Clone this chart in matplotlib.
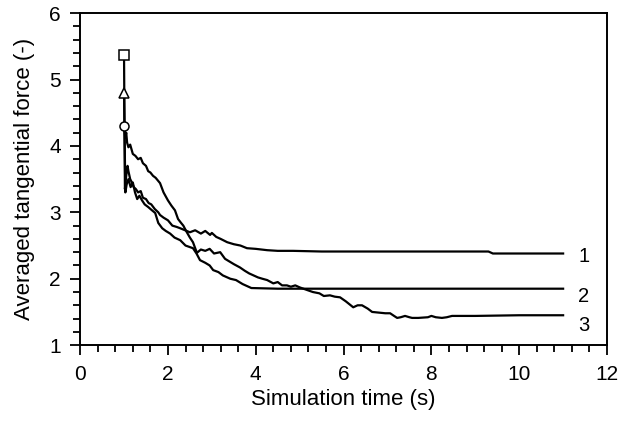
import matplotlib
matplotlib.use('Agg')
import matplotlib.pyplot as plt
from matplotlib.ticker import MultipleLocator

plt.rcParams['font.family'] = ['Liberation Sans', 'DejaVu Sans']

# --- curve 1 (square start, ends ~2.4) ---
x1 = [1.0, 1.02, 1.05, 1.08, 1.1, 1.14, 1.18, 1.22, 1.27, 1.32, 1.38, 1.43, 1.5, 1.56,
      1.62, 1.7, 1.78, 1.82, 1.9, 2.0, 2.1, 2.2, 2.28, 2.39, 2.5, 2.62, 2.75, 2.85,
      2.96, 3.0, 3.1, 3.2, 3.35, 3.5, 3.65, 3.8, 4.0, 4.26, 4.5, 4.85, 5.5, 6.5, 7.5,
      8.5, 9.3, 9.4, 10.0, 11.0]
y1 = [5.37, 3.35, 3.55, 3.7, 3.62, 3.5, 3.45, 3.38, 3.35, 3.3, 3.32, 3.22, 3.2, 3.14,
      3.12, 3.05, 3.0, 2.96, 2.92, 2.88, 2.8, 2.78, 2.76, 2.73, 2.7, 2.73, 2.68, 2.72,
      2.66, 2.69, 2.63, 2.6, 2.55, 2.52, 2.5, 2.46, 2.45, 2.43, 2.42, 2.42, 2.41, 2.41, 2.41,
      2.41, 2.41, 2.38, 2.38, 2.38]

# --- curve 2 (triangle start, ends ~1.85) ---
x2 = [1.0, 1.03, 1.06, 1.1, 1.15, 1.2, 1.25, 1.3, 1.35, 1.41, 1.47, 1.55, 1.62, 1.71,
      1.78, 1.87, 1.95, 2.05, 2.15, 2.28, 2.4, 2.57, 2.65, 2.73, 2.85, 2.95, 3.03,
      3.15, 3.25, 3.42, 3.55, 3.7, 3.9, 4.5, 5.5, 6.5, 7.5, 8.5, 9.5, 10.5, 11.0]
y2 = [4.8, 3.3, 3.42, 3.5, 3.38, 3.45, 3.3, 3.2, 3.25, 3.18, 3.12, 3.08, 3.04, 2.99,
      2.84, 2.76, 2.72, 2.68, 2.62, 2.58, 2.5, 2.46, 2.38, 2.28, 2.24, 2.2, 2.13,
      2.1, 2.05, 2.0, 1.98, 1.92, 1.86, 1.85, 1.85, 1.85, 1.85, 1.85, 1.85, 1.85, 1.85]

# --- curve 3 (circle start, ends ~1.45) ---
x3 = [1.0, 1.03, 1.05, 1.07, 1.1, 1.14, 1.2, 1.26, 1.32, 1.38, 1.43, 1.5, 1.55, 1.6,
      1.66, 1.72, 1.82, 1.9, 2.0, 2.08, 2.16, 2.23, 2.3, 2.35, 2.43, 2.5, 2.57, 2.66,
      2.75, 2.85, 2.95, 3.05, 3.19, 3.3, 3.4, 3.5, 3.64, 3.75, 3.85, 3.95, 4.05,
      4.15, 4.26, 4.4, 4.5, 4.6, 4.71, 4.8, 4.9, 5.0, 5.17, 5.3, 5.45, 5.55, 5.69,
      5.8, 5.92, 6.05, 6.22, 6.32, 6.42, 6.55, 6.65, 6.8, 6.95, 7.06, 7.15, 7.22,
      7.3, 7.4, 7.5, 7.56, 7.7, 7.92, 8.0, 8.1, 8.24, 8.35, 8.47, 9.0, 10.0, 11.0]
y3 = [4.3, 4.12, 4.2, 4.05, 3.98, 4.02, 3.88, 3.85, 3.8, 3.82, 3.74, 3.7, 3.62, 3.6,
      3.55, 3.52, 3.44, 3.3, 3.18, 3.1, 3.03, 2.9, 2.84, 2.8, 2.7, 2.62, 2.55, 2.39,
      2.44, 2.42, 2.45, 2.38, 2.4, 2.3, 2.26, 2.22, 2.17, 2.12, 2.08, 2.05, 2.02,
      2.0, 1.98, 1.93, 1.95, 1.9, 1.9, 1.88, 1.9, 1.87, 1.83, 1.8, 1.78, 1.74, 1.75,
      1.73, 1.72, 1.66, 1.57, 1.6, 1.6, 1.55, 1.5, 1.49, 1.48, 1.48, 1.44, 1.41,
      1.42, 1.44, 1.42, 1.41, 1.41, 1.42, 1.44, 1.42, 1.41, 1.42, 1.44, 1.44, 1.45, 1.45]

curve_labels = ['1', '2', '3']
label_y = [2.33, 1.74, 1.30]
start_markers = ['s', '^', 'o']

fig = plt.figure(figsize=(6.41, 4.24), dpi=100)
ax = fig.add_axes([0.125, 0.186, 0.822, 0.783])

for xs, ys, m in zip([x1, x2, x3], [y1, y2, y3], start_markers):
    ax.plot(xs, ys, color='black', lw=1.6)
    ax.plot(xs[0], ys[0], marker=m, ms=6.5, mfc='white', mec='black', mew=1.1, ls='none')

for lab, ly in zip(curve_labels, label_y):
    ax.text(11.35, ly, lab, fontsize=14.5, ha='left', va='center')

ax.set_xlim(0, 12)
ax.set_ylim(1, 6)
ax.xaxis.set_major_locator(MultipleLocator(2))
ax.xaxis.set_minor_locator(MultipleLocator(0.4))
ax.yaxis.set_major_locator(MultipleLocator(1))
ax.yaxis.set_minor_locator(MultipleLocator(0.2))
ax.tick_params(which='both', direction='out', width=1.3, labelsize=15, top=False, right=False)
ax.tick_params(which='major', length=7, pad=7)
ax.tick_params(which='minor', length=5)
for s in ax.spines.values():
    s.set_linewidth(1.4)

ax.set_xlabel('Simulation time (s)', fontsize=16, labelpad=4)
ax.set_ylabel('Averaged tangential force (-)', fontsize=16, labelpad=10)

fig.savefig('out.png', dpi=100)
